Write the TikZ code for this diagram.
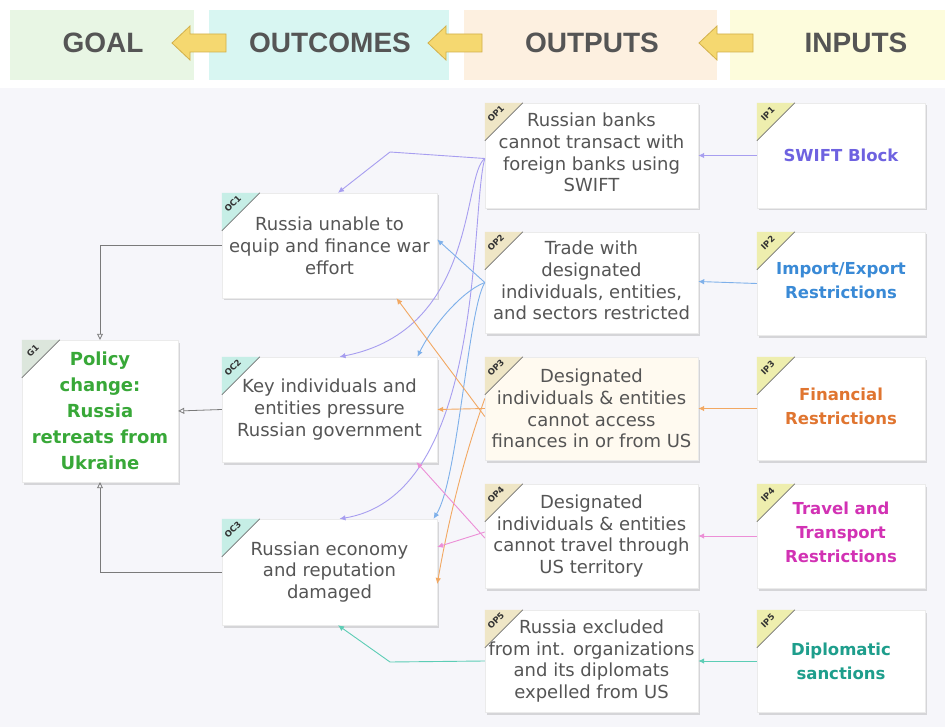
\documentclass[tikz,border=0pt]{standalone}
\usepackage{fontspec}
\setmainfont{DejaVu Sans}
\newfontfamily\headfont{Liberation Sans}
\usetikzlibrary{arrows.meta,shadows}
\definecolor{txt}{HTML}{555555}
\definecolor{bgc}{HTML}{F6F6FA}
\definecolor{bandG}{HTML}{E8F6E4}
\definecolor{bandOC}{HTML}{D8F6F2}
\definecolor{bandOP}{HTML}{FDF0E0}
\definecolor{bandIP}{HTML}{FDFCDC}
\definecolor{arrF}{HTML}{F5D870}
\definecolor{arrD}{HTML}{D2B04A}
\definecolor{cswift}{HTML}{6E62E0}
\definecolor{cimp}{HTML}{3A8AD6}
\definecolor{cfin}{HTML}{E07530}
\definecolor{ctrav}{HTML}{D232B4}
\definecolor{cdip}{HTML}{1E9E8C}
\definecolor{cgoal}{HTML}{38A838}
\definecolor{lswift}{HTML}{A79EF0}
\definecolor{limp}{HTML}{7EB0EA}
\definecolor{lfin}{HTML}{F2A862}
\definecolor{ltrav}{HTML}{EC8ED6}
\definecolor{ldip}{HTML}{5CCDB5}
\definecolor{lgray}{HTML}{7A7A7A}
\definecolor{tagG}{HTML}{DCE6DC}
\definecolor{tagOC}{HTML}{C6EEE6}
\definecolor{tagOP}{HTML}{EFE6C6}
\definecolor{tagIP}{HTML}{EEEEAE}
\definecolor{op3fill}{HTML}{FFFAF0}
\tikzset{
  box/.style={draw=black!8, fill=white, inner sep=0pt,
    drop shadow={shadow xshift=1.5pt, shadow yshift=-2.5pt, opacity=0.28}},
  bodytext/.style={text=txt, align=center, font=\fontsize{18}{21.8}\selectfont},
  inptext/.style={align=center, font=\bfseries\fontsize{16.5}{24}\selectfont},
  headtext/.style={text=txt, font=\headfont\bfseries\fontsize{28}{30}\selectfont},
  hdarrow/.style={fill=arrF, draw=arrD, line width=0.8pt},
  conn/.style={line width=0.9pt, -{Latex[length=6pt,width=5.5pt]}},
  goalconn/.style={draw=lgray, line width=0.8pt, -{Triangle[open,length=6pt,width=6pt]}},
  tagtext/.style={rotate=45, inner sep=0pt, font=\bfseries\fontsize{8.5}{8.5}\selectfont, text=black!80},
}
\newcommand{\cornertag}[3]{%
  \fill[#3] (#1.north west) -- ++(38,0) -- ++(-38,38) -- cycle;
  \draw[black!55, line width=0.6pt] ([xshift=38pt]#1.north west) -- ([yshift=-38pt]#1.north west);
  \node[tagtext] (#1tag) at ([xshift=11pt,yshift=-11pt]#1.north west) {#2};}
\newcommand{\hdarr}[1]{%
  \draw[hdarrow] (#1-27,43) -- (#1-9,26) -- (#1-9,34) -- (#1+27,34) -- (#1+27,52) -- (#1-9,52) -- (#1-9,60) -- cycle;}
\begin{document}
\begin{tikzpicture}[x=1pt,y=-1pt]
\useasboundingbox (0,0) rectangle (945,727);
\fill[bgc] (0,0) rectangle (945,727);
\fill[white] (0,0) rectangle (945,88);
% header bands
\fill[bandG] (10,10) rectangle (194,80);
\fill[bandOC] (209,10) rectangle (449,80);
\fill[bandOP] (464,10) rectangle (717,80);
\fill[bandIP] (730,10) rectangle (945,80);
\node[headtext] (hG) at (103,43) {GOAL};
\node[headtext] (hOC) at (330,43) {OUTCOMES};
\node[headtext] (hOP) at (592,43) {OUTPUTS};
\node[headtext] (hIP) at (856,43) {INPUTS};
\hdarr{199}
\hdarr{455}
\hdarr{726}
% goal
\node[box, minimum width=156pt, minimum height=142pt] (G1) at (100,411) {};
\node[text=cgoal, align=center, font=\bfseries\fontsize{18}{26}\selectfont] (G1t) at (G1)
      {Policy\\change:\\Russia\\retreats from\\Ukraine};
% outcomes
\node[box, minimum width=215pt, minimum height=105pt] (OC1) at (329.5,245.5) {};
\node[bodytext] (OC1t) at (OC1) {Russia unable to\\equip and finance war\\effort};
\node[box, minimum width=215pt, minimum height=105pt] (OC2) at (329.5,409.5) {};
\node[bodytext] (OC2t) at (OC2) {Key individuals and\\entities pressure\\Russian government};
\node[box, minimum width=215pt, minimum height=106pt] (OC3) at (329.5,572) {};
\node[bodytext] (OC3t) at (OC3) {Russian economy\\and reputation\\damaged};
% outputs
\node[box, minimum width=213pt, minimum height=105pt] (OP1) at (591.5,155.5) {};
\node[bodytext] (OP1t) at ([yshift=3pt]OP1) {Russian banks\\cannot transact with\\foreign banks using\\SWIFT};
\node[box, minimum width=213pt, minimum height=101pt] (OP2) at (591.5,282.5) {};
\node[bodytext] (OP2t) at ([yshift=2pt]OP2) {Trade with\\designated\\individuals, entities,\\and sectors restricted};
\node[box, fill=op3fill, minimum width=213pt, minimum height=103pt] (OP3) at (591.5,408.5) {};
\node[bodytext] (OP3t) at (OP3) {Designated\\individuals \& entities\\cannot access\\finances in or from US};
\node[box, minimum width=213pt, minimum height=104pt] (OP4) at (591.5,536) {};
\node[bodytext] (OP4t) at (OP4) {Designated\\individuals \& entities\\cannot travel through\\US territory};
\node[box, minimum width=213pt, minimum height=102pt] (OP5) at (591.5,661) {};
\node[bodytext] (OP5t) at (OP5) {Russia excluded\\from int. organizations\\and its diplomats\\expelled from US};
% inputs
\node[box, minimum width=168pt, minimum height=105pt] (IP1) at (841,155.5) {};
\node[inptext, text=cswift] (IP1t) at (IP1) {SWIFT Block};
\node[box, minimum width=168pt, minimum height=103pt] (IP2) at (841,283.5) {};
\node[inptext, text=cimp] (IP2t) at ([yshift=3pt]IP2) {Import/Export\\Restrictions};
\node[box, minimum width=168pt, minimum height=103pt] (IP3) at (841,408.5) {};
\node[inptext, text=cfin] (IP3t) at ([yshift=2pt]IP3) {Financial\\Restrictions};
\node[box, minimum width=168pt, minimum height=104pt] (IP4) at (841,536) {};
\node[inptext, text=ctrav] (IP4t) at ([yshift=4pt]IP4) {Travel and\\Transport\\Restrictions};
\node[box, minimum width=168pt, minimum height=102pt] (IP5) at (841,661) {};
\node[inptext, text=cdip] (IP5t) at (IP5) {Diplomatic\\sanctions};
% bend coordinates
\coordinate (pb) at (390,152);
\coordinate (tb) at (390,662);
\coordinate (g1) at (100,245.5);
\coordinate (g3) at (100,572);
% inputs -> outputs
\draw[conn, draw=lswift] (IP1.west) -- (OP1.east);
\draw[conn, draw=limp] (IP2.west) -- ([yshift=1pt]OP2.east);
\draw[conn, draw=lfin] (IP3.west) -- (OP3.east);
\draw[conn, draw=ltrav] (IP4.west) -- (OP4.east);
\draw[conn, draw=ldip] (IP5.west) -- (OP5.east);
% outputs -> outcomes
\draw[conn, draw=lswift] ([yshift=-3pt]OP1.west) -- (pb) -- ([xshift=8.5pt]OC1.north);
\draw[conn, draw=lswift] ([yshift=-3pt]OP1.west) .. controls (462,175) and (478,330) .. ([xshift=10pt]OC2.north);
\draw[conn, draw=lswift] ([yshift=-3pt]OP1.west) .. controls (470,210) and (486,495) .. ([xshift=10pt]OC3.north);
\draw[conn, draw=limp] (OP2.west) -- ([yshift=6pt]OC1.east);
\draw[conn, draw=limp] (OP2.west) .. controls (460,292) and (430,330) .. ([xshift=88pt]OC2.north);
\draw[conn, draw=limp] (OP2.west) .. controls (468,310) and (458,480) .. ([xshift=104pt]OC3.north);
\draw[conn, draw=lfin] ([yshift=-8pt]OP3.west) -- ([xshift=67pt]OC1.south);
\draw[conn, draw=lfin] (OP3.west) -- (OC2.east);
\draw[conn, draw=lfin] ([yshift=10pt]OP3.west) .. controls (470,440) and (452,500) .. ([yshift=-12pt]OC3.east);
\draw[conn, draw=ltrav] ([yshift=-2pt]OP4.west) -- ([xshift=87pt]OC2.south);
\draw[conn, draw=ltrav] ([yshift=4pt]OP4.west) -- ([yshift=25pt]OC3.east);
\draw[conn, draw=ldip] (OP5.west) -- (tb) -- ([xshift=8.5pt]OC3.south);
% outcomes -> goal
\draw[goalconn] (OC1.west) -- (g1) -- (G1.north);
\draw[goalconn] (OC2.west) -- (G1.east);
\draw[goalconn] (OC3.west) -- (g3) -- (G1.south);
% corner tags
\cornertag{G1}{G1}{tagG}
\cornertag{OC1}{OC1}{tagOC}
\cornertag{OC2}{OC2}{tagOC}
\cornertag{OC3}{OC3}{tagOC}
\cornertag{OP1}{OP1}{tagOP}
\cornertag{OP2}{OP2}{tagOP}
\cornertag{OP3}{OP3}{tagOP}
\cornertag{OP4}{OP4}{tagOP}
\cornertag{OP5}{OP5}{tagOP}
\cornertag{IP1}{IP1}{tagIP}
\cornertag{IP2}{IP2}{tagIP}
\cornertag{IP3}{IP3}{tagIP}
\cornertag{IP4}{IP4}{tagIP}
\cornertag{IP5}{IP5}{tagIP}
\end{tikzpicture}
\end{document}
